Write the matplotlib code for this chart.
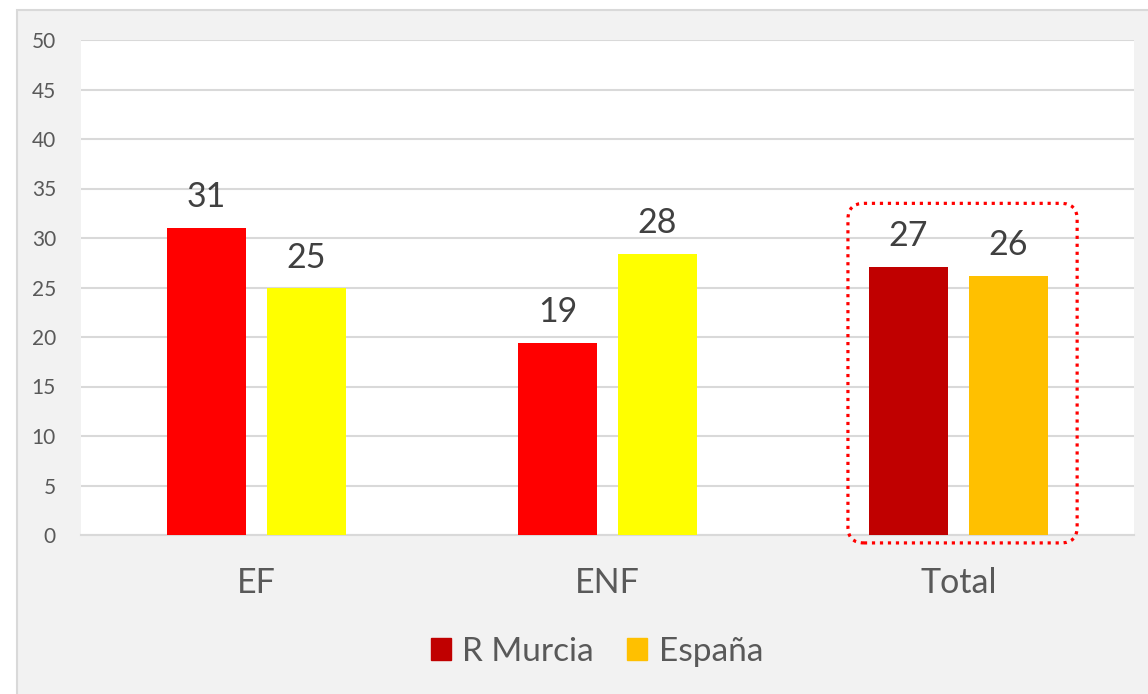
import matplotlib
matplotlib.use("Agg")
import matplotlib.pyplot as plt
import numpy as np
from matplotlib.patches import Rectangle, FancyBboxPatch
from matplotlib.transforms import IdentityTransform

# ── data ─────────────────────────────────────────────────────────────────────
categories = ["EF", "ENF", "Total"]
murcia = [31.0, 19.4, 27.1]
espana = [24.9, 28.4, 26.2]
series_names = ["R Murcia", "España"]

murcia_colors = ["#ff0000", "#ff0000", "#c00000"]
espana_colors = ["#ffff00", "#ffff00", "#ffc000"]
legend_colors = ["#c00000", "#ffc000"]

plt.rcParams["font.family"] = ["Lato", "DejaVu Sans"]

W, H = 1148, 694
fig = plt.figure(figsize=(W / 100, H / 100), dpi=100)
fig.patch.set_facecolor("white")

# grey chart area
fig.add_artist(Rectangle((17 / W, -0.01), 1.0, (H - 10) / H + 0.01,
                         transform=fig.transFigure, facecolor="#f2f2f2",
                         edgecolor="#d9d9d9", lw=1.5, zorder=0))

ax = fig.add_axes([81 / W, (H - 535) / H, (1134 - 81) / W, (535 - 40) / H])
ax.set_facecolor("white")

x = np.arange(len(categories))
width = 0.225
off = 0.1425

ax.bar(x - off, murcia, width, color=murcia_colors, zorder=3)
ax.bar(x + off, espana, width, color=espana_colors, zorder=3)

for xi, v in zip(x - off, murcia):
    ax.text(xi, v + 1.5, f"{v:.0f}", ha="center", va="bottom",
            fontsize=24.5, color="#404040")
for xi, v in zip(x + off, espana):
    ax.text(xi, v + 1.5, f"{v:.0f}", ha="center", va="bottom",
            fontsize=24.5, color="#404040")

ax.set_xlim(-0.5, 2.5)
ax.set_ylim(0, 50)
ax.set_yticks(np.arange(0, 51, 5))
ax.yaxis.grid(True, color="#d9d9d9", lw=1.5, zorder=0)
ax.set_axisbelow(True)
for s in ["top", "right", "left"]:
    ax.spines[s].set_visible(False)
ax.spines["bottom"].set_color("#d9d9d9")
ax.spines["bottom"].set_linewidth(1.5)

ax.set_xticks(x)
ax.set_xticklabels(categories, fontsize=24.5, color="#595959")
ax.tick_params(axis="x", length=0, pad=23)
ax.tick_params(axis="y", length=0, pad=18, labelsize=15, labelcolor="#595959")

# dotted rounded box around the Total group
(x0, y0) = ax.transData.transform((2 - off - width / 2 - 0.06, -0.8))
(x1, y1) = ax.transData.transform((2 + off + width / 2 + 0.083, 33.5))
box = FancyBboxPatch((x0, y0), x1 - x0, y1 - y0,
                     boxstyle="round,pad=0,rounding_size=16",
                     transform=IdentityTransform(), fill=False,
                     edgecolor="#ff0000", lw=2.3,
                     linestyle=(0, (1, 1.5)), zorder=5)
fig.add_artist(box)

handles = [Rectangle((0, 0), 1, 1, color=c) for c in legend_colors]
fig.legend(handles, series_names, loc="center", bbox_to_anchor=(597 / W, 1 - 652 / H),
           ncol=2, frameon=False, fontsize=24, labelcolor="#595959",
           handlelength=0.6, handleheight=0.65, handletextpad=0.35,
           columnspacing=1.0)

fig.savefig("out.png", dpi=100)
